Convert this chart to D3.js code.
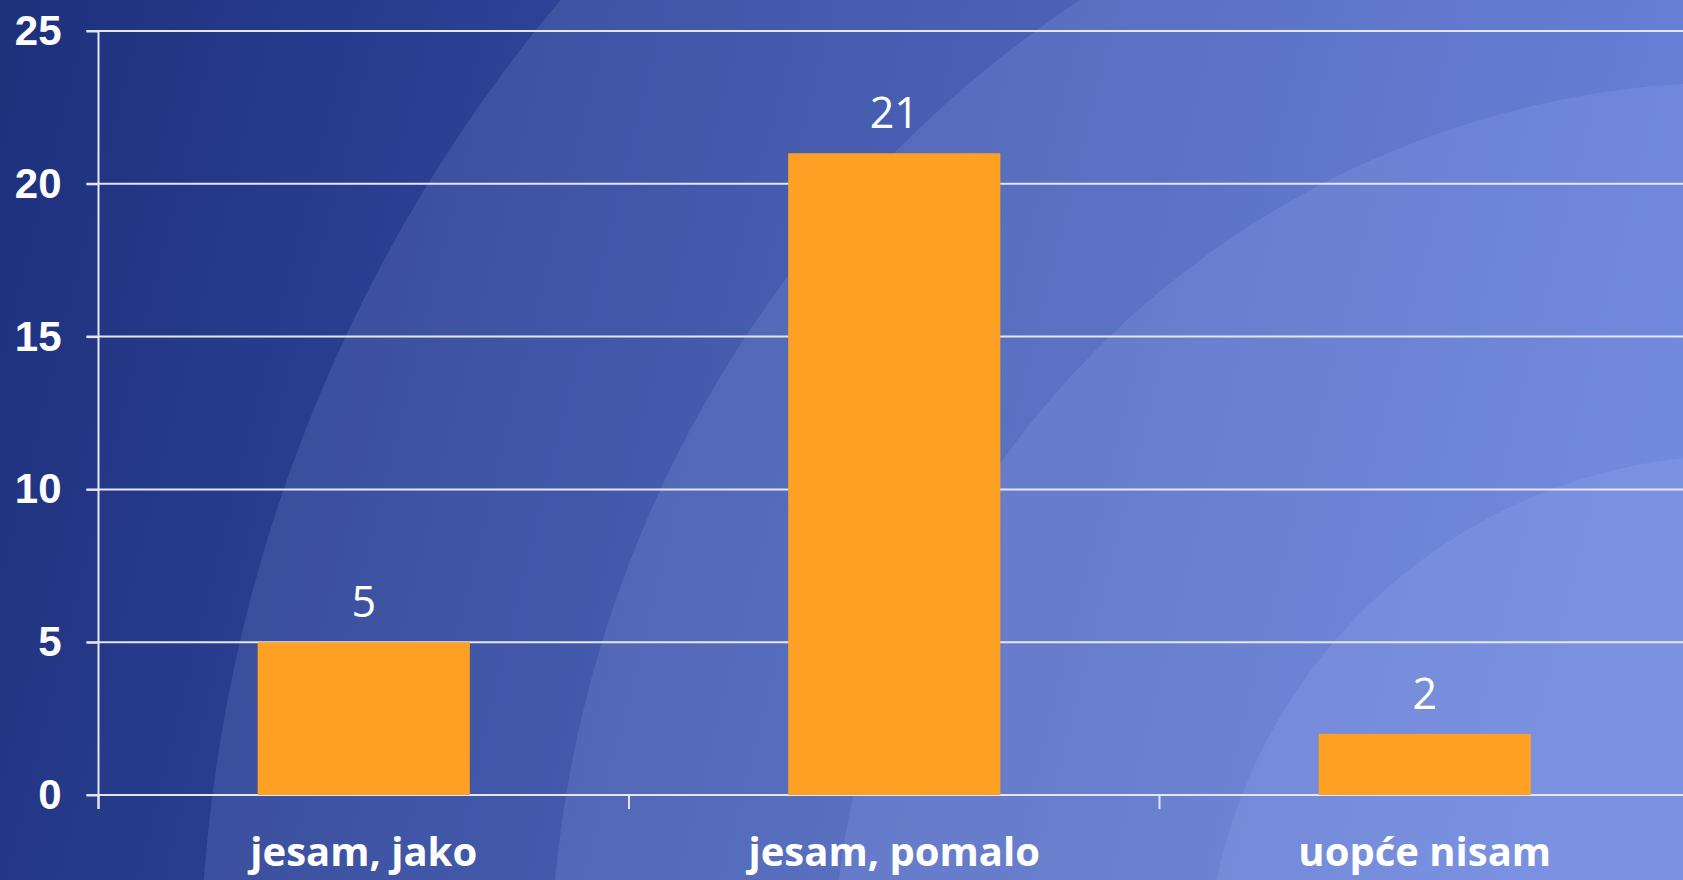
<!DOCTYPE html>
<html>
<head>
<meta charset="utf-8">
<script src="https://cdn.jsdelivr.net/npm/d3@7"></script>
<style>
  html, body { margin: 0; padding: 0; overflow: hidden; }
  svg { display: block; }
</style>
</head>
<body>
<script>
var width = 1683, height = 880;

// chart data
var categories = ['jesam, jako', 'jesam, pomalo', 'uopće nisam'];
var values = [5, 21, 2];
var yTicks = [0, 5, 10, 15, 20, 25];

// plot box (right side runs off the page like in the slide)
var x_left = 98.5, x_right = 1690;
var y_top = 31, y_bottom = 795;

// background rings, centred off the bottom right corner
var ring_cx = 1740, ring_cy = 990;
var ring_r = [1540, 1190, 908, 535];

var svg = d3.select('body').append('svg').attr('width', width).attr('height', height);

// Background: dark-to-light blue gradient plus soft lighter rings
var defs = svg.append('defs');
var grad = defs.append('linearGradient').attr('id', 'bg')
	.attr('gradientUnits', 'userSpaceOnUse')
	.attr('x1', 0).attr('y1', 0).attr('x2', width).attr('y2', 420);
grad.append('stop').attr('offset', 0).attr('stop-color', '#1d307c');
grad.append('stop').attr('offset', 1).attr('stop-color', '#4f6bce');

svg.append('rect').attr('width', width).attr('height', height).attr('fill', 'url(#bg)');

svg.append('g').attr('class', 'rings')
	.selectAll('circle').data(ring_r)
	.enter().append('circle')
	.attr('cx', ring_cx)
	.attr('cy', ring_cy)
	.attr('r', d => d)
	.attr('fill', '#b8caff')
	.attr('opacity', 0.13);

// Scales
var xScale = d3.scaleBand().domain(categories).range([x_left, x_right])
	.paddingInner(0.6).paddingOuter(0.3);
var yScale = d3.scaleLinear().domain([0, 25]).range([y_bottom, y_top]);

// Grid lines
svg.append('g').attr('class', 'grid')
	.selectAll('line').data(yTicks)
	.enter().append('line')
	.attr('x1', x_left - 12).attr('x2', width)
	.attr('y1', d => yScale(d)).attr('y2', d => yScale(d))
	.attr('stroke', '#e4e7f3')
	.attr('stroke-width', 2);

// Y axis
var yAxis = svg.append('g')
	.attr('class', 'y_axis')
	.attr('transform', 'translate(' + x_left + ',0)')
	.call(d3.axisLeft(yScale).tickValues(yTicks).tickSize(12).tickPadding(25));
yAxis.select('.domain').remove();
yAxis.selectAll('line').attr('stroke', '#e4e7f3').attr('stroke-width', 2);
yAxis.selectAll('text')
	.attr('fill', '#ffffff')
	.style('font-family', '"Liberation Sans", Arial, sans-serif')
	.style('font-weight', 'bold')
	.style('font-size', '42px');

// vertical axis line
svg.append('line')
	.attr('x1', x_left).attr('x2', x_left)
	.attr('y1', y_top - 1).attr('y2', y_bottom + 14)
	.attr('stroke', '#e4e7f3').attr('stroke-width', 2);

// X axis ticks between categories
var bounds = d3.range(categories.length + 1).map(i => xScale.range()[0] + i * xScale.step());
svg.append('g').attr('class', 'x_ticks')
	.selectAll('line').data(bounds)
	.enter().append('line')
	.attr('x1', d => d).attr('x2', d => d)
	.attr('y1', y_bottom).attr('y2', y_bottom + 14)
	.attr('stroke', '#e4e7f3').attr('stroke-width', 2);

// Bars
svg.append('g').attr('class', 'bars')
	.selectAll('rect').data(values)
	.enter().append('rect')
	.attr('x', (d, i) => xScale(categories[i]))
	.attr('y', d => yScale(d))
	.attr('width', xScale.bandwidth())
	.attr('height', d => y_bottom - yScale(d))
	.attr('fill', '#fea024');

// Value labels
svg.append('g').attr('class', 'values')
	.selectAll('text').data(values)
	.enter().append('text')
	.attr('x', (d, i) => xScale(categories[i]) + xScale.bandwidth() / 2)
	.attr('y', d => yScale(d) - 25)
	.attr('text-anchor', 'middle')
	.attr('fill', '#ffffff')
	.style('font-family', '"Open Sans", sans-serif')
	.style('font-size', '43px')
	.text(d => d);

// Category labels (kept just inside the bottom edge)
svg.append('g').attr('class', 'cats')
	.selectAll('text').data(categories)
	.enter().append('text')
	.attr('x', d => xScale(d) + xScale.bandwidth() / 2)
	.attr('y', 866)
	.attr('text-anchor', 'middle')
	.attr('fill', '#ffffff')
	.style('font-family', '"Open Sans", sans-serif')
	.style('font-weight', 'bold')
	.style('font-size', '40px')
	.text(d => d);
</script>
</body>
</html>
